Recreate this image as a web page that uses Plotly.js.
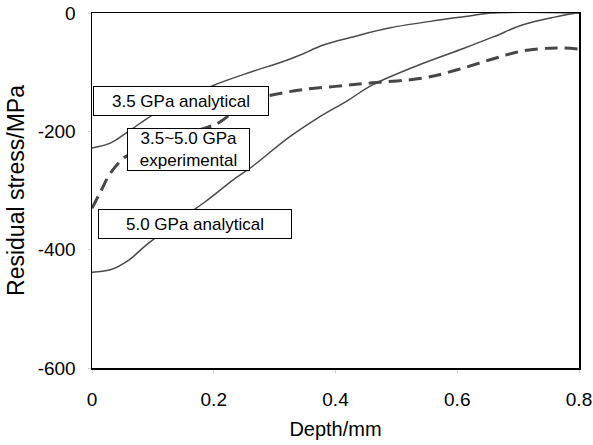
<!DOCTYPE html>
<html>
<head>
<meta charset="utf-8">
<script src="https://cdn.plot.ly/plotly-3.0.1.min.js"></script>
<style>html,body{margin:0;padding:0;background:#fff;}#chart{width:593px;height:445px;}</style>
</head>
<body>
<div id="chart"></div>
<script>
// Depth (mm) and residual stress (MPa)
var depth35 = [0, 0.03, 0.06, 0.1, 0.15, 0.2, 0.26, 0.314, 0.342, 0.38, 0.43, 0.49, 0.57, 0.62, 0.655, 0.8];
var stress35 = [-228, -220, -200, -172, -145, -122, -100, -82, -71, -54, -40, -25, -12, -5, 0, 0];

var depth50 = [0, 0.03, 0.06, 0.087, 0.12, 0.15, 0.186, 0.232, 0.26, 0.325, 0.37, 0.42, 0.46, 0.544, 0.61, 0.66, 0.708, 0.76, 0.797, 0.8];
var stress50 = [-438, -434, -418, -394, -368, -345, -319, -282, -262, -209, -178, -148, -122, -85, -60, -40, -20, -7, 0, 0];

var depthExp = [0, 0.015, 0.03, 0.055, 0.09, 0.13, 0.17, 0.207, 0.23, 0.256, 0.29, 0.342, 0.4, 0.46, 0.544, 0.6, 0.654, 0.708, 0.763, 0.8];
var stressExp = [-330, -300, -271, -243, -228, -215, -200, -186, -169, -150, -140, -130, -124, -118, -110, -96, -79, -64, -59, -61];

var labels = ["3.5 GPa analytical", "3.5~5.0 GPa<br>experimental", "5.0 GPa analytical"];
var labelX = [0.1454, 0.1593, 0.170];
var labelY = [-148, -230, -356];

var traces = [
  {x: depth35, y: stress35, mode: 'lines', line: {color: '#4a4a4a', width: 1.5, shape: 'spline'}, name: labels[0]},
  {x: depth50, y: stress50, mode: 'lines', line: {color: '#4a4a4a', width: 1.5, shape: 'spline'}, name: labels[2]},
  {x: depthExp, y: stressExp, mode: 'lines', line: {color: '#474747', width: 3, dash: '13px,7px', shape: 'spline'}, name: 'experimental'}
];

var boxW = [174, 121, 192];
var boxH = [28, 41, 28];
var annotations = labels.map(function (t, i) {
  return {
    x: labelX[i], y: labelY[i], xref: 'x', yref: 'y', text: t, showarrow: false,
    xanchor: 'center', yanchor: 'middle',
    font: {family: 'Liberation Sans, Arial, sans-serif', size: 17, color: '#000'},
    bgcolor: '#fff', bordercolor: '#000', borderwidth: 1, borderpad: 0,
    width: boxW[i], height: boxH[i]
  };
});

var layout = {
  width: 593, height: 445,
  margin: {l: 92, r: 14, t: 13, b: 77},
  paper_bgcolor: '#fff', plot_bgcolor: '#fff',
  showlegend: false,
  font: {family: 'Liberation Sans, Arial, sans-serif', size: 19, color: '#000'},
  xaxis: {
    range: [0, 0.8], tickvals: [0, 0.2, 0.4, 0.6, 0.8], ticktext: ['0', '0.2', '0.4', '0.6', '0.8'],
    showgrid: false, zeroline: false, showline: true, mirror: true, linecolor: '#000', linewidth: 1.5,
    ticks: 'outside', ticklen: 3, tickcolor: '#ccc', ticklabelstandoff: 11,
    title: {text: 'Depth/mm', font: {size: 20}, standoff: 12}
  },
  yaxis: {
    range: [-600, 0], tickvals: [-600, -400, -200, 0], ticktext: ['-600', '-400', '-200', '0'],
    showgrid: false, zeroline: false, showline: true, mirror: true, linecolor: '#000', linewidth: 1.5,
    ticks: 'outside', ticklen: 3, tickcolor: '#ccc', ticklabelstandoff: 8,
    title: {text: 'Residual stress/MPa', font: {size: 23}, standoff: 6}
  },
  annotations: annotations
};

Plotly.newPlot('chart', traces, layout, {staticPlot: true, displayModeBar: false});
</script>
</body>
</html>
